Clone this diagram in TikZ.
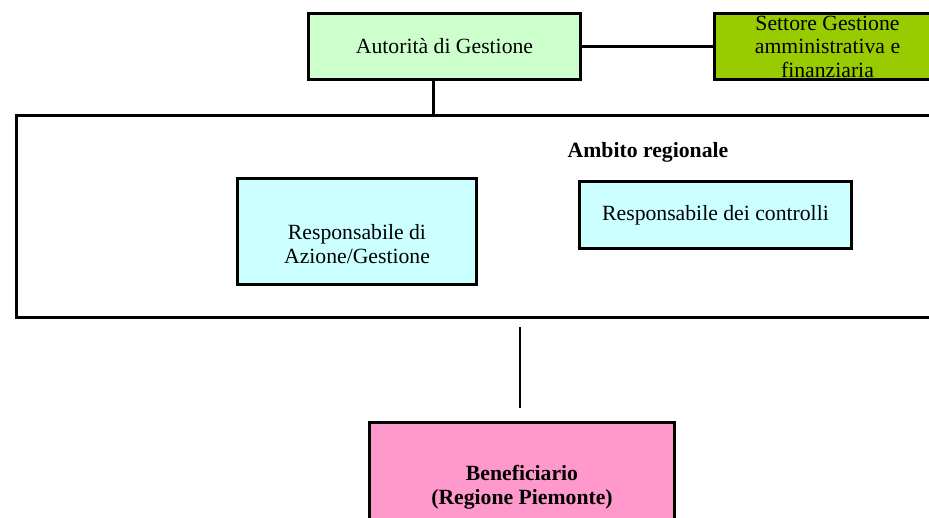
\documentclass[tikz,border=0pt]{standalone}
\usepackage{fontspec}
\setmainfont{Liberation Serif}
\definecolor{mylightgreen}{RGB}{204,255,204}
\definecolor{myolive}{RGB}{153,204,0}
\definecolor{mycyan}{RGB}{204,255,255}
\definecolor{mypink}{RGB}{255,153,204}
\usetikzlibrary{positioning}

\begin{document}
\begin{tikzpicture}[
  x=1pt,
  y=-1pt,
  line width=3pt,
  font=\fontsize{21.7}{23.5}\selectfont,
  mybox/.style={
    draw,
    fill=#1,
    rectangle,
    anchor=north west,
    align=center,
    inner sep=0pt
    }
]
\useasboundingbox (0,0) rectangle (929,518);
\clip (0,0) rectangle (929,518);

% top row
\node[mybox=mylightgreen, minimum width=272pt, minimum height=66pt]
  (autorita) at (307,12) {Autorità di Gestione};
\node[mybox=myolive, minimum width=226pt, minimum height=66pt]
  (settore) at (713,12) {Settore Gestione\\amministrativa e\\finanziaria};

% regional frame, open to the right
\node[draw, rectangle, anchor=north west, minimum width=1000pt, minimum height=202pt]
  (ambito) at (15,114) {};
\node[font=\fontsize{21.7}{23.5}\selectfont\bfseries]
  (ambitotitle) at (648,152) {Ambito regionale};

\node[mybox=mycyan, minimum width=239pt, minimum height=106pt]
  (respazione) at (236,177) {\strut\\Responsabile di\\Azione/Gestione};
\node[mybox=mycyan, minimum width=272pt, minimum height=67pt]
  (respcontrolli) at (578,180) {Responsabile dei controlli};

% beneficiary
\node[mybox=mypink, minimum width=305pt, minimum height=130pt,
  font=\fontsize{21.7}{23.5}\selectfont\bfseries]
  (beneficiario) at (368,421) {Beneficiario\\(Regione Piemonte)};

% links
\draw (autorita.east) -- (settore.west);
\draw ([xshift=-11pt]autorita.south) -- ([xshift=-11pt,yshift=-3pt]autorita.south |- ambito.north);
\draw[line width=1.5pt] ([xshift=-2pt,yshift=-8pt]beneficiario.north |- ambito.south)
  -- ([xshift=-2pt,yshift=13pt]beneficiario.north);
\end{tikzpicture}
\end{document}
